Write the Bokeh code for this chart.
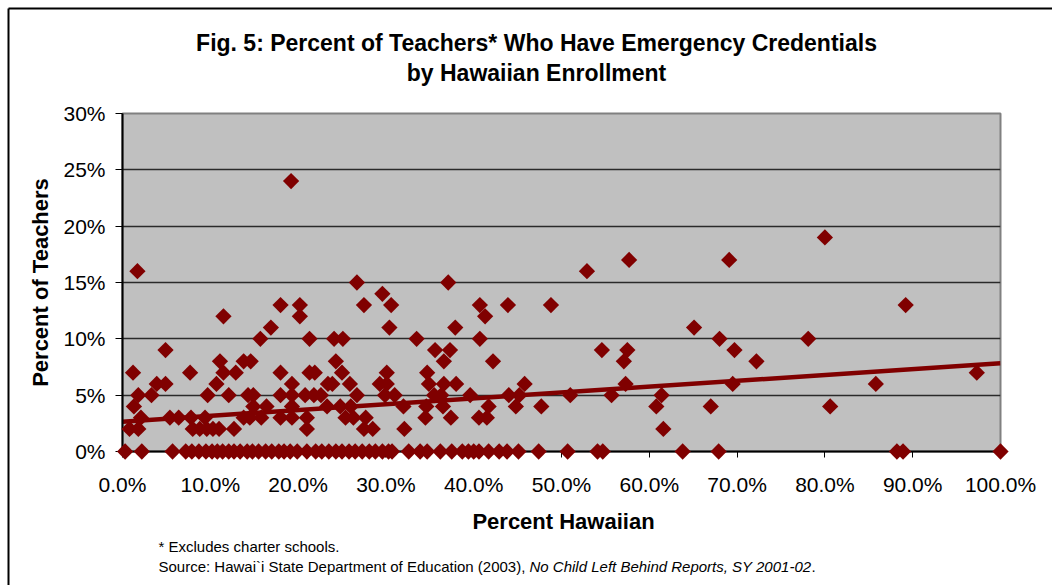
from math import pi

from bokeh.plotting import figure
from bokeh.models import Range1d, FixedTicker, PrintfTickFormatter
from bokeh.core.properties import value
from bokeh.embed import file_html
from bokeh.resources import INLINE

# Percent Hawaiian enrollment of each school (x) and percent of its teachers
# holding emergency credentials (y).
pct_hawaiian = [
    0.3, 2.2, 5.7, 7.2, 7.9, 8.7, 9.5, 10.2, 10.8, 11.4, 12.1, 12.7, 13.4, 14.2, 14.8,
    15.5, 16.3, 17.0, 17.8, 18.4, 19.1, 19.9, 21.0, 22.0, 22.7, 23.5, 24.3, 25.0, 25.8,
    26.5, 27.3, 28.1, 28.8, 29.6, 30.3, 30.7, 32.6, 33.9, 34.7, 36.2, 37.5, 38.7, 39.4,
    40.0, 40.6, 41.7, 42.9, 43.8, 45.1, 47.4, 50.7, 54.1, 54.7, 63.8, 67.9, 88.2, 88.9, 100.0,
    0.8, 1.8, 8.0, 8.8, 9.6, 10.3, 11.0, 12.7, 21.0, 27.5, 28.5, 32.1, 61.6,
    2.1, 5.4, 6.4, 7.8, 9.4, 13.8, 14.5, 15.8, 18.0, 19.3, 21.0, 25.4, 26.3, 27.7, 34.5,
    37.4, 40.6, 41.5,
    1.3, 14.9, 16.4, 19.3, 23.3, 24.8, 26.0, 32.0, 34.6, 36.5, 41.7, 44.8, 47.7, 60.8,
    67.0, 80.6,
    1.8, 3.3, 9.7, 12.1, 14.3, 14.9, 18.0, 19.3, 20.8, 21.8, 22.6, 26.7, 29.9, 31.0, 35.5,
    36.3, 39.6, 44.0, 45.2, 51.0, 55.7, 61.4,
    3.9, 4.9, 10.7, 19.3, 23.4, 23.9, 25.9, 29.3, 30.1, 34.9, 36.6, 38.0, 45.8, 57.3,
    69.5, 85.8,
    1.2, 7.7, 11.5, 12.9, 18.0, 21.3, 21.9, 25.0, 30.1, 34.7, 97.3,
    11.1, 13.8, 14.6, 24.3, 36.6, 42.2, 57.1, 72.2,
    4.9, 35.6, 37.3, 54.6, 57.5, 69.7,
    15.7, 21.3, 24.1, 25.1, 33.5, 40.7, 68.0, 78.1,
    16.9, 30.4, 37.9, 65.1,
    11.5, 20.2, 41.3,
    18.0, 20.2, 27.5, 30.6, 40.7, 43.9, 48.8, 89.2,
    29.6,
    26.7, 37.1,
    1.7, 52.9,
    57.7, 69.1,
    80.0,
    19.2,
]
pct_emergency = [
    0, 0, 0, 0, 0, 0, 0, 0, 0, 0, 0, 0, 0, 0, 0,
    0, 0, 0, 0, 0, 0, 0, 0, 0, 0, 0, 0, 0, 0,
    0, 0, 0, 0, 0, 0, 0, 0, 0, 0, 0, 0, 0, 0,
    0, 0, 0, 0, 0, 0, 0, 0, 0, 0, 0, 0, 0, 0, 0,
    2, 2, 2, 2, 2, 2, 2, 2, 2, 2, 2, 2, 2,
    3, 3, 3, 3, 3, 3, 3, 3, 3, 3, 3, 3, 3, 3, 3,
    3, 3, 3,
    4, 4, 4, 4, 4, 4, 4, 4, 4, 4, 4, 4, 4, 4,
    4, 4,
    5, 5, 5, 5, 5, 5, 5, 5, 5, 5, 5, 5, 5, 5, 5,
    5, 5, 5, 5, 5, 5, 5,
    6, 6, 6, 6, 6, 6, 6, 6, 6, 6, 6, 6, 6, 6,
    6, 6,
    7, 7, 7, 7, 7, 7, 7, 7, 7, 7, 7,
    8, 8, 8, 8, 8, 8, 8, 8,
    9, 9, 9, 9, 9, 9,
    10, 10, 10, 10, 10, 10, 10, 10,
    11, 11, 11, 11,
    12, 12, 12,
    13, 13, 13, 13, 13, 13, 13, 13,
    14,
    15, 15,
    16, 16,
    17, 17,
    19,
    24,
]

# Linear trend line end points
trend_x = [0, 100]
trend_y = [2.65, 7.83]

x_ticks = [0, 10, 20, 30, 40, 50, 60, 70, 80, 90, 100]
y_ticks = [0, 5, 10, 15, 20, 25, 30]

title_lines = ["Fig. 5: Percent of Teachers* Who Have Emergency Credentials",
               "by Hawaiian Enrollment"]
x_title = "Percent Hawaiian"
y_title = "Percent of Teachers"
note_text = "* Excludes charter schools."
source_text = "Source: Hawai`i State Department of Education (2003), "
source_italic = "No Child Left Behind Reports, SY 2001-02"

MAROON = "#800000"
FONT = "Liberation Sans"

# Page-pixel geometry of the plotting area
FRAME_L, FRAME_R, FRAME_T, FRAME_B = 122, 1000, 113, 451
W, H = 1052, 585


def at_x(px):
    return (px - FRAME_L) * 100 / (FRAME_R - FRAME_L)


def at_y(py):
    return (FRAME_B - py) * 30 / (FRAME_B - FRAME_T)


p = figure(
    width=W, height=H,
    x_range=Range1d(0, 100), y_range=Range1d(0, 30),
    output_backend="svg", toolbar_location=None,
    min_border_left=FRAME_L, min_border_right=W - FRAME_R,
    min_border_top=FRAME_T, min_border_bottom=H - FRAME_B,
)

p.background_fill_color = "#c0c0c0"
p.border_fill_color = "white"
p.outline_line_color = "#808080"
p.outline_line_width = 2

p.xgrid.visible = False
p.ygrid.ticker = FixedTicker(ticks=y_ticks[1:-1])
p.ygrid.grid_line_color = "#2a2a2a"
p.ygrid.grid_line_width = 1.5

p.xaxis.ticker = FixedTicker(ticks=x_ticks)
p.yaxis.ticker = FixedTicker(ticks=y_ticks)
p.xaxis.formatter = PrintfTickFormatter(format="%.1f%%")
p.yaxis.formatter = PrintfTickFormatter(format="%d%%")
for ax in (p.xaxis[0], p.yaxis[0]):
    ax.axis_line_color = "black"
    ax.axis_line_width = 2
    ax.major_tick_line_color = "black"
    ax.major_tick_line_width = 1
    ax.major_tick_in = 0
    ax.minor_tick_line_color = None
    ax.major_label_text_font = FONT
    ax.major_label_text_font_size = "21px"
    ax.major_label_text_color = "black"
p.xaxis.major_tick_out = 6
p.yaxis.major_tick_out = 7
p.xaxis.major_label_standoff = 15
p.yaxis.major_label_standoff = 10

p.line(trend_x, trend_y, line_color=MAROON, line_width=4.5)
# overlay level keeps markers on the axis edges unclipped
p.scatter(pct_hawaiian, pct_emergency, marker="square", size=11.5, angle=pi / 4,
          fill_color=MAROON, line_color=None, level="overlay")

# chart box: top and left edges of the surrounding frame
p.segment(x0=[at_x(8), at_x(8)], y0=[at_y(8), at_y(8)],
          x1=[at_x(1060), at_x(8)], y1=[at_y(8), at_y(600)],
          line_color="black", line_width=2, level="overlay")


def add_text(text, px, py, size, style="normal", align="center", angle=0.0):
    # text placed in page pixels, drawn unclipped outside the plotting area
    p.text(x=[at_x(px)], y=[at_y(py)], text=[text], angle=angle,
           text_font=value(FONT), text_font_size=value(size),
           text_font_style=style, text_color="black",
           text_align=align, text_baseline="middle", level="overlay")


add_text(title_lines[0], 536, 42, "23px", style="bold")
add_text(title_lines[1], 536, 72, "23px", style="bold")
add_text(x_title, 563, 521, "22px", style="bold")
add_text(y_title, 40, 282, "22px", style="bold", angle=pi / 2)
add_text(note_text, 158, 546, "15px", align="left")
add_text(source_text, 158, 566, "15px", align="left")
add_text(source_italic, 529, 566, "15px", style="italic", align="left")
add_text(".", 811, 566, "15px", align="left")

open("out.html", "w").write(file_html(p, INLINE))
